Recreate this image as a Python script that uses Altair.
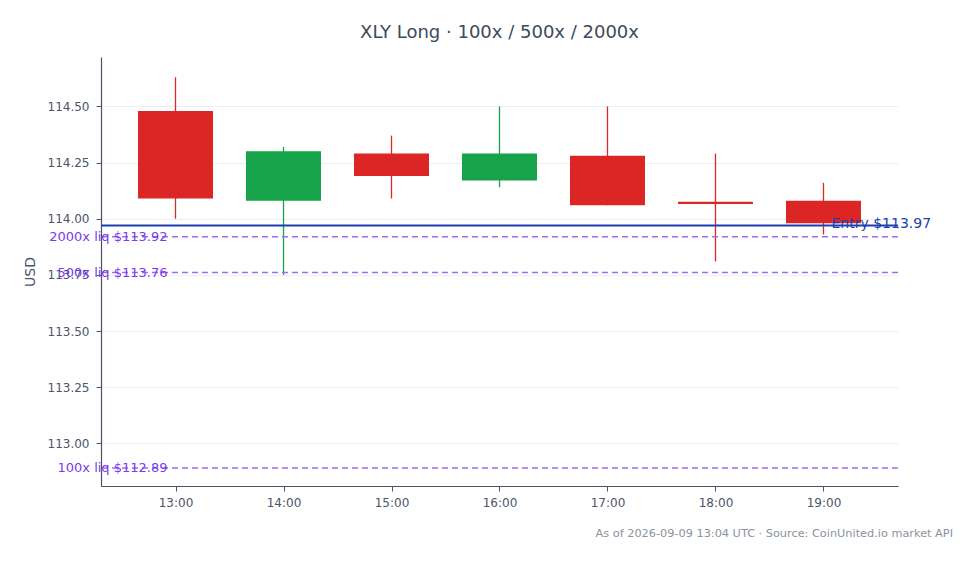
import altair as alt
import pandas as pd

# --- data ---
hours = [13, 14, 15, 16, 17, 18, 19]
opens = [114.48, 114.08, 114.29, 114.17, 114.28, 114.075, 114.08]
highs = [114.63, 114.32, 114.37, 114.50, 114.50, 114.29, 114.16]
lows = [114.00, 113.75, 114.09, 114.14, 114.06, 113.81, 113.93]
closes = [114.09, 114.30, 114.19, 114.29, 114.06, 114.065, 113.98]

entry_price = [113.97]
entry_labels = ["Entry $113.97"]
liq_prices = [113.92, 113.76, 112.89]
liq_labels = ["2000x liq $113.92", "500x liq $113.76", "100x liq $112.89"]

y_ticks = [113.00, 113.25, 113.50, 113.75, 114.00, 114.25, 114.50]
x_domain = [12.31, 19.69]
y_domain = [112.81, 114.72]

title_text = "XLY Long · 100x / 500x / 2000x"
footer_text = "As of 2026-09-09 13:04 UTC · Source: CoinUnited.io market API"

UP = "#16a34a"
DOWN = "#dc2626"
FONT = "DejaVu Sans"

candles = pd.DataFrame({
    "hour": hours, "open": opens, "high": highs, "low": lows, "close": closes,
})
candles["dir"] = ["up" if c >= o else "down" for o, c in zip(opens, closes)]

entry_df = pd.DataFrame({"price": entry_price, "label": entry_labels, "hour": [hours[-1]]})
liq_df = pd.DataFrame({"price": liq_prices, "label": liq_labels, "hour": [hours[0]] * len(liq_prices)})
footer_df = pd.DataFrame({"label": [footer_text]})

xscale = alt.Scale(domain=x_domain, nice=False, zero=False, padding=0)
yscale = alt.Scale(domain=y_domain, nice=False, zero=False, padding=0)
color_scale = alt.Scale(domain=["up", "down"], range=[UP, DOWN])

x_enc = alt.X("hour:Q", scale=xscale, title=None,
              axis=alt.Axis(values=hours, labelExpr="datum.value + ':00'", grid=False,
                            labelFontSize=12, labelColor="#4a5568", labelFont=FONT,
                            domainColor="#4a5568", tickColor="#4a5568", tickSize=5,
                            labelPadding=6))

base = alt.Chart(candles)

wicks = base.mark_rule(strokeWidth=1.3).encode(
    x=x_enc,
    y=alt.Y("low:Q", scale=yscale, title="USD",
            axis=alt.Axis(values=y_ticks, format=".2f", grid=True, gridColor="#eceef2",
                          labelFontSize=12, labelColor="#4a5568", labelFont=FONT,
                          domainColor="#4a5568", tickColor="#4a5568", tickSize=5,
                          labelPadding=7,
                          titleFontSize=14, titleFont=FONT, titleColor="#4a5568",
                          titleFontWeight="normal", titlePadding=10)),
    y2="high:Q",
    stroke=alt.Stroke("dir:N", scale=color_scale, legend=None),
)

bodies = base.mark_bar(size=75).encode(
    x=alt.X("hour:Q", scale=xscale),
    y=alt.Y("open:Q", scale=yscale),
    y2="close:Q",
    fill=alt.Fill("dir:N", scale=color_scale, legend=None),
)

entry_rule = alt.Chart(entry_df).mark_rule(color="#1e40af", strokeWidth=2).encode(
    y=alt.Y("price:Q", scale=yscale)
)
entry_text = alt.Chart(entry_df).mark_text(
    align="left", baseline="middle", dx=8, dy=-1, fontSize=14, font=FONT, color="#1e40af"
).encode(
    x=alt.X("hour:Q", scale=xscale),
    y=alt.Y("price:Q", scale=yscale),
    text="label:N",
)

liq_rules = alt.Chart(liq_df).mark_rule(
    color="#9f6bf0", strokeWidth=1.5, strokeDash=[6, 4]
).encode(y=alt.Y("price:Q", scale=yscale))

liq_text = alt.Chart(liq_df).mark_text(
    align="right", baseline="middle", dx=-8, fontSize=13, font=FONT, color="#7c3aed"
).encode(
    x=alt.X("hour:Q", scale=xscale),
    y=alt.Y("price:Q", scale=yscale),
    text="label:N",
)

footer = alt.Chart(footer_df).mark_text(
    align="right", baseline="middle", fontSize=11.3, font=FONT, color="#8a929e"
).encode(
    x=alt.value(852),
    y=alt.value(477),
    text="label:N",
)

chart = alt.layer(wicks, bodies, entry_rule, liq_rules, entry_text, liq_text, footer).properties(
    width=797,
    height=429,
    autosize=alt.AutoSizeParams(type="none"),
    padding={"left": 93, "top": 49, "right": 71, "bottom": 70},
    title=alt.TitleParams(title_text, fontSize=18, font=FONT, color="#3d4a5c",
                          fontWeight="normal", anchor="middle", offset=15),
).configure_view(stroke=None).configure_axis(domainWidth=1.2)

chart.save("out.html", embed_options={"renderer": "svg", "actions": False})
